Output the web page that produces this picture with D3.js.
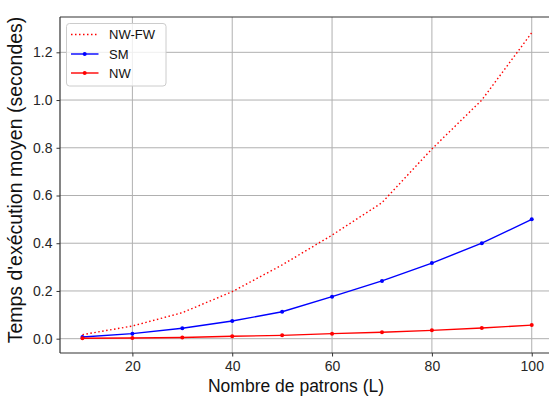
<!DOCTYPE html>
<html><head><meta charset="utf-8">
<script src="https://cdn.jsdelivr.net/npm/d3@7"></script>
<style>
body{margin:0;background:#fff;}
svg{display:block;font-family:"Liberation Sans",Arial,sans-serif;}
</style></head>
<body><svg id="c" width="549" height="400"></svg>
<script>
const patrons = [10,20,30,40,50,60,70,80,90,100];
const nwfw = [0.017,0.053,0.109,0.197,0.309,0.434,0.570,0.795,1.000,1.282];
const sm   = [0.007,0.021,0.044,0.074,0.113,0.176,0.242,0.317,0.400,0.500];
const nw   = [0.002,0.003,0.005,0.010,0.014,0.021,0.027,0.035,0.045,0.057];
const xTicks = [20,40,60,80,100];
const yTicks = [0.0,0.2,0.4,0.6,0.8,1.0,1.2];
const series = [
  {name:"NW-FW", values:nwfw, color:"#ff0000", dash:"1.5,2.5", marker:false},
  {name:"SM", values:sm, color:"#0000ff", dash:null, marker:true},
  {name:"NW", values:nw, color:"#ff0000", dash:null, marker:true}
];

const svg = d3.select("#c");
const L=60, R=554.2, T=17, B=353;
const x = d3.scaleLinear().domain([5.5,104.5]).range([L,R]);
const y = d3.scaleLinear().domain([-0.06,1.348]).range([B,T]);

// grid
const g = svg.append("g");
g.selectAll(".gx").data(xTicks).enter().append("line")
  .attr("x1",d=>x(d)).attr("x2",d=>x(d)).attr("y1",T).attr("y2",B)
  .attr("stroke","#b0b0b0").attr("stroke-width",1);
g.selectAll(".gy").data(yTicks).enter().append("line")
  .attr("x1",L).attr("x2",R).attr("y1",d=>y(d)).attr("y2",d=>y(d))
  .attr("stroke","#b0b0b0").attr("stroke-width",1);

// lines
const line = d3.line().x((d,i)=>x(patrons[i])).y(d=>y(d));
series.forEach(s=>{
  svg.append("path").datum(s.values).attr("d",line)
    .attr("fill","none").attr("stroke",s.color).attr("stroke-width",1.4)
    .attr("stroke-dasharray",s.dash);
  if(s.marker){
    svg.selectAll(null).data(s.values).enter().append("circle")
      .attr("cx",(d,i)=>x(patrons[i])).attr("cy",d=>y(d)).attr("r",2)
      .attr("fill",s.color);
  }
});

// axes
const xa = svg.append("g").attr("transform",`translate(0,${B})`)
  .call(d3.axisBottom(x).tickValues(xTicks).tickSize(3.5).tickPadding(5).tickFormat(d3.format("d")));
const ya = svg.append("g").attr("transform",`translate(${L},0)`)
  .call(d3.axisLeft(y).tickValues(yTicks).tickSize(3.5).tickPadding(4).tickFormat(d3.format(".1f")));
[xa,ya].forEach(a=>{
  a.select(".domain").remove();
  a.selectAll("line").attr("stroke","#333");
  a.selectAll("text").attr("fill","#262626").style("font-size","14px").style("font-family","'Liberation Sans',Arial,sans-serif");
});
// spines
svg.append("line").attr("x1",L).attr("x2",L).attr("y1",T).attr("y2",B).attr("stroke","#333").attr("stroke-width",1.2);
svg.append("line").attr("x1",L).attr("x2",R).attr("y1",B).attr("y2",B).attr("stroke","#333").attr("stroke-width",1.2);
svg.append("line").attr("x1",L).attr("x2",R).attr("y1",T).attr("y2",T).attr("stroke","#333").attr("stroke-width",1.2);

// labels
svg.append("text").attr("x",296).attr("y",392).attr("text-anchor","middle")
  .style("font-size","17.5px").attr("fill","#111").text("Nombre de patrons (L)");
svg.append("text").attr("transform","translate(22,180) rotate(-90)").attr("text-anchor","middle")
  .style("font-size","19.5px").attr("fill","#111").text("Temps d'exécution moyen (secondes)");

// legend
const lg = svg.append("g");
lg.append("rect").attr("x",66.5).attr("y",23.5).attr("width",99.5).attr("height",62.5).attr("rx",3)
  .attr("fill","#fff").attr("fill-opacity",0.8).attr("stroke","#ccc").attr("stroke-width",1);
const rows=[34.5,54,73];
series.forEach((s,i)=>{
  lg.append("line").attr("x1",71).attr("x2",98.5).attr("y1",rows[i]).attr("y2",rows[i])
    .attr("stroke",s.color).attr("stroke-width",1.4).attr("stroke-dasharray",s.dash);
  if(s.marker) lg.append("circle").attr("cx",84.7).attr("cy",rows[i]).attr("r",2).attr("fill",s.color);
  lg.append("text").attr("x",109).attr("y",rows[i]).attr("dy","0.36em").style("font-size","13px")
    .attr("fill","#111").text(s.name);
});
</script></body></html>
